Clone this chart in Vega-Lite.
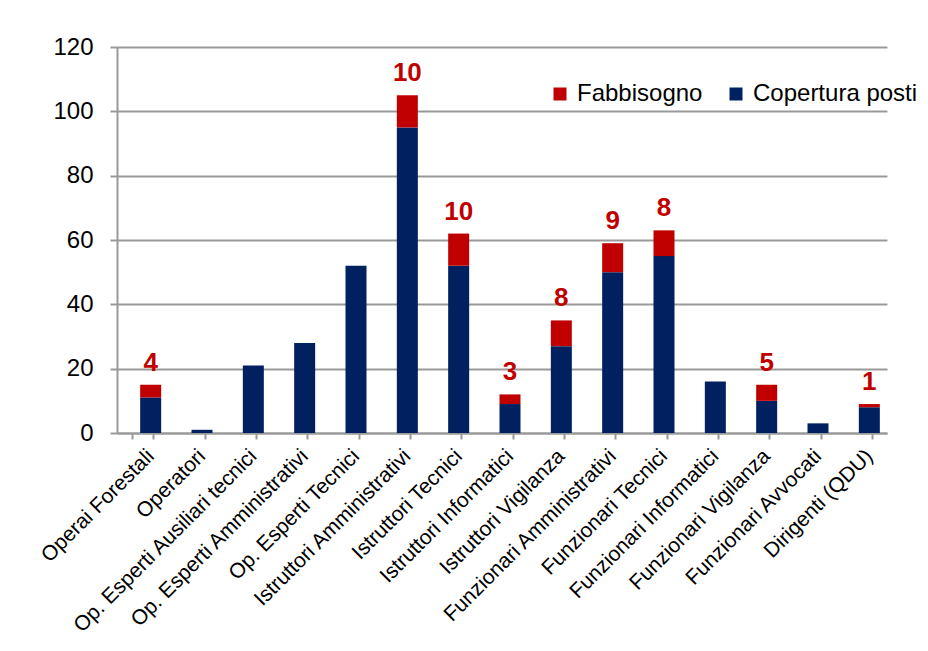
{
  "$schema": "https://vega.github.io/schema/vega-lite/v6.json",
  "width": 770,
  "height": 386,
  "autosize": {"type": "none"},
  "padding": {"left": 117, "top": 47, "right": 41, "bottom": 218},
  "background": "white",
  "config": {
    "font": "Liberation Sans",
    "view": {"stroke": null}
  },
  "data": {
    "values": [
      {"cat": "Operai Forestali", "serie": "Copertura posti", "valore": 11},
      {"cat": "Operai Forestali", "serie": "Fabbisogno", "valore": 4},
      {"cat": "Operatori", "serie": "Copertura posti", "valore": 1},
      {"cat": "Operatori", "serie": "Fabbisogno", "valore": 0},
      {"cat": "Op. Esperti Ausiliari tecnici", "serie": "Copertura posti", "valore": 21},
      {"cat": "Op. Esperti Ausiliari tecnici", "serie": "Fabbisogno", "valore": 0},
      {"cat": "Op. Esperti Amministrativi", "serie": "Copertura posti", "valore": 28},
      {"cat": "Op. Esperti Amministrativi", "serie": "Fabbisogno", "valore": 0},
      {"cat": "Op. Esperti Tecnici", "serie": "Copertura posti", "valore": 52},
      {"cat": "Op. Esperti Tecnici", "serie": "Fabbisogno", "valore": 0},
      {"cat": "Istruttori Amministrativi", "serie": "Copertura posti", "valore": 95},
      {"cat": "Istruttori Amministrativi", "serie": "Fabbisogno", "valore": 10},
      {"cat": "Istruttori Tecnici", "serie": "Copertura posti", "valore": 52},
      {"cat": "Istruttori Tecnici", "serie": "Fabbisogno", "valore": 10},
      {"cat": "Istruttori Informatici", "serie": "Copertura posti", "valore": 9},
      {"cat": "Istruttori Informatici", "serie": "Fabbisogno", "valore": 3},
      {"cat": "Istruttori Vigilanza", "serie": "Copertura posti", "valore": 27},
      {"cat": "Istruttori Vigilanza", "serie": "Fabbisogno", "valore": 8},
      {"cat": "Funzionari Amministrativi", "serie": "Copertura posti", "valore": 50},
      {"cat": "Funzionari Amministrativi", "serie": "Fabbisogno", "valore": 9},
      {"cat": "Funzionari Tecnici", "serie": "Copertura posti", "valore": 55},
      {"cat": "Funzionari Tecnici", "serie": "Fabbisogno", "valore": 8},
      {"cat": "Funzionari Informatici", "serie": "Copertura posti", "valore": 16},
      {"cat": "Funzionari Informatici", "serie": "Fabbisogno", "valore": 0},
      {"cat": "Funzionari Vigilanza", "serie": "Copertura posti", "valore": 10},
      {"cat": "Funzionari Vigilanza", "serie": "Fabbisogno", "valore": 5},
      {"cat": "Funzionari Avvocati", "serie": "Copertura posti", "valore": 3},
      {"cat": "Funzionari Avvocati", "serie": "Fabbisogno", "valore": 0},
      {"cat": "Dirigenti (QDU)", "serie": "Copertura posti", "valore": 8},
      {"cat": "Dirigenti (QDU)", "serie": "Fabbisogno", "valore": 1}
    ]
  },
  "encoding": {
    "x": {
      "field": "cat",
      "type": "nominal",
      "sort": null,
      "title": null,
      "scale": {"paddingInner": 0.59, "paddingOuter": 0.295},
      "axis": {
        "labelAngle": -45,
        "labelFontSize": 21,
        "labelColor": "black",
        "labelPadding": 6,
        "domainColor": "#999999",
        "domainWidth": 2,
        "tickColor": "#999999",
        "tickWidth": 2,
        "tickSize": 6,
        "tickBand": "extent",
        "labelLimit": 400
      }
    }
  },
  "layer": [
    {
      "mark": {"type": "bar", "width": 21, "xOffset": 8},
      "encoding": {
        "y": {
          "field": "valore",
          "type": "quantitative",
          "stack": "zero",
          "title": null,
          "scale": {"domain": [0, 120]},
          "axis": {
            "values": [0, 20, 40, 60, 80, 100, 120],
            "labelFontSize": 24,
            "labelColor": "black",
            "labelPadding": 17,
            "domainColor": "#999999",
            "domainWidth": 2,
            "tickColor": "#999999",
            "tickWidth": 2,
            "tickSize": 7,
            "gridColor": "#999999",
            "gridWidth": 2
          }
        },
        "color": {
          "field": "serie",
          "type": "nominal",
          "scale": {"domain": ["Fabbisogno", "Copertura posti"], "range": ["#C00000", "#002060"]},
          "legend": {
            "title": null,
            "orient": "none",
            "direction": "horizontal",
            "legendX": 427,
            "legendY": 31,
            "symbolType": "square",
            "symbolSize": 169,
            "symbolStrokeWidth": 0,
            "labelFontSize": 24,
            "labelColor": "black",
            "labelOffset": 5,
            "labelLimit": 300,
            "columnPadding": 21,
            "fillColor": "white",
            "padding": 4
          }
        },
        "order": {"field": "serie", "sort": "ascending"}
      }
    },
    {
      "transform": [
        {"joinaggregate": [{"op": "sum", "field": "valore", "as": "totale"}], "groupby": ["cat"]},
        {"filter": "datum.serie === 'Fabbisogno' && datum.valore > 0"}
      ],
      "mark": {"type": "text", "fontSize": 26, "fontWeight": "bold", "color": "#C00000", "baseline": "bottom", "dy": -9, "xOffset": 8},
      "encoding": {
        "y": {"field": "totale", "type": "quantitative"},
        "text": {"field": "valore", "type": "quantitative"}
      }
    }
  ]
}
